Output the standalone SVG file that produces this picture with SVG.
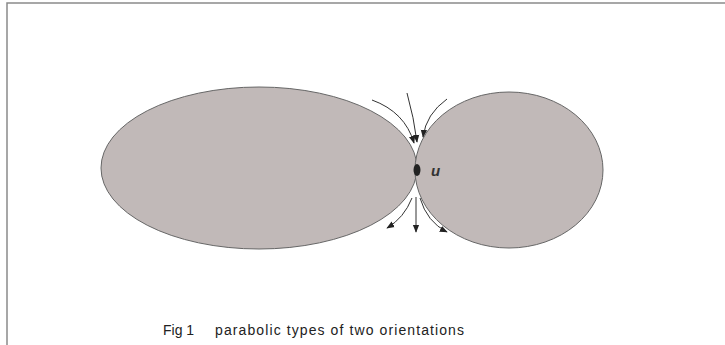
<svg xmlns="http://www.w3.org/2000/svg" width="725" height="345" viewBox="0 0 725 345">
<defs>
<style>
.lobe{fill:#c1b9b8;stroke:#666;stroke-width:1}
.flow{fill:none;stroke:#333;stroke-width:1;marker-end:url(#ah)}
.cap{font-family:"Liberation Sans",Arial,sans-serif;font-size:14px;fill:#222}
</style>
<marker id="ah" viewBox="0 0 10 10" refX="9" refY="5" markerWidth="8" markerHeight="8" markerUnits="userSpaceOnUse" orient="auto">
<path d="M0,1 L10,5 L0,9 z" fill="#222"/>
</marker>
</defs>
<rect width="725" height="345" fill="#fff"/>
<g id="frame" fill="none" stroke="#8a8a8a" stroke-width="1.5">
<path d="M7,345 V3 H725"/>
</g>
<g id="left-lobe"><ellipse class="lobe" cx="259" cy="168" rx="158" ry="81"/></g>
<g id="right-lobe"><ellipse class="lobe" cx="509" cy="170" rx="94" ry="78"/></g>
<g id="connectors">
<path class="flow" d="M372,100 Q405,112 414,143"/>
<path class="flow" d="M407,93 Q414,118 417,142"/>
<path class="flow" d="M447,99 Q426,114 423,137"/>
<path class="flow" d="M412,198 Q404,218 387,228"/>
<path class="flow" d="M416,197 L416,232"/>
<path class="flow" d="M420,198 Q427,222 447,232"/>
</g>
<g id="point-u">
<ellipse cx="417" cy="170" rx="3.5" ry="6" fill="#222"/>
<text x="431" y="176" font-family="Liberation Sans,Arial,sans-serif" font-size="15" font-weight="bold" font-style="italic" fill="#333">u</text>
</g>
<g id="caption">
<text class="cap" x="163" y="335">Fig 1</text>
<text class="cap" x="215" y="335" textLength="249" lengthAdjust="spacing">parabolic types of two orientations</text>
</g>
</svg>
